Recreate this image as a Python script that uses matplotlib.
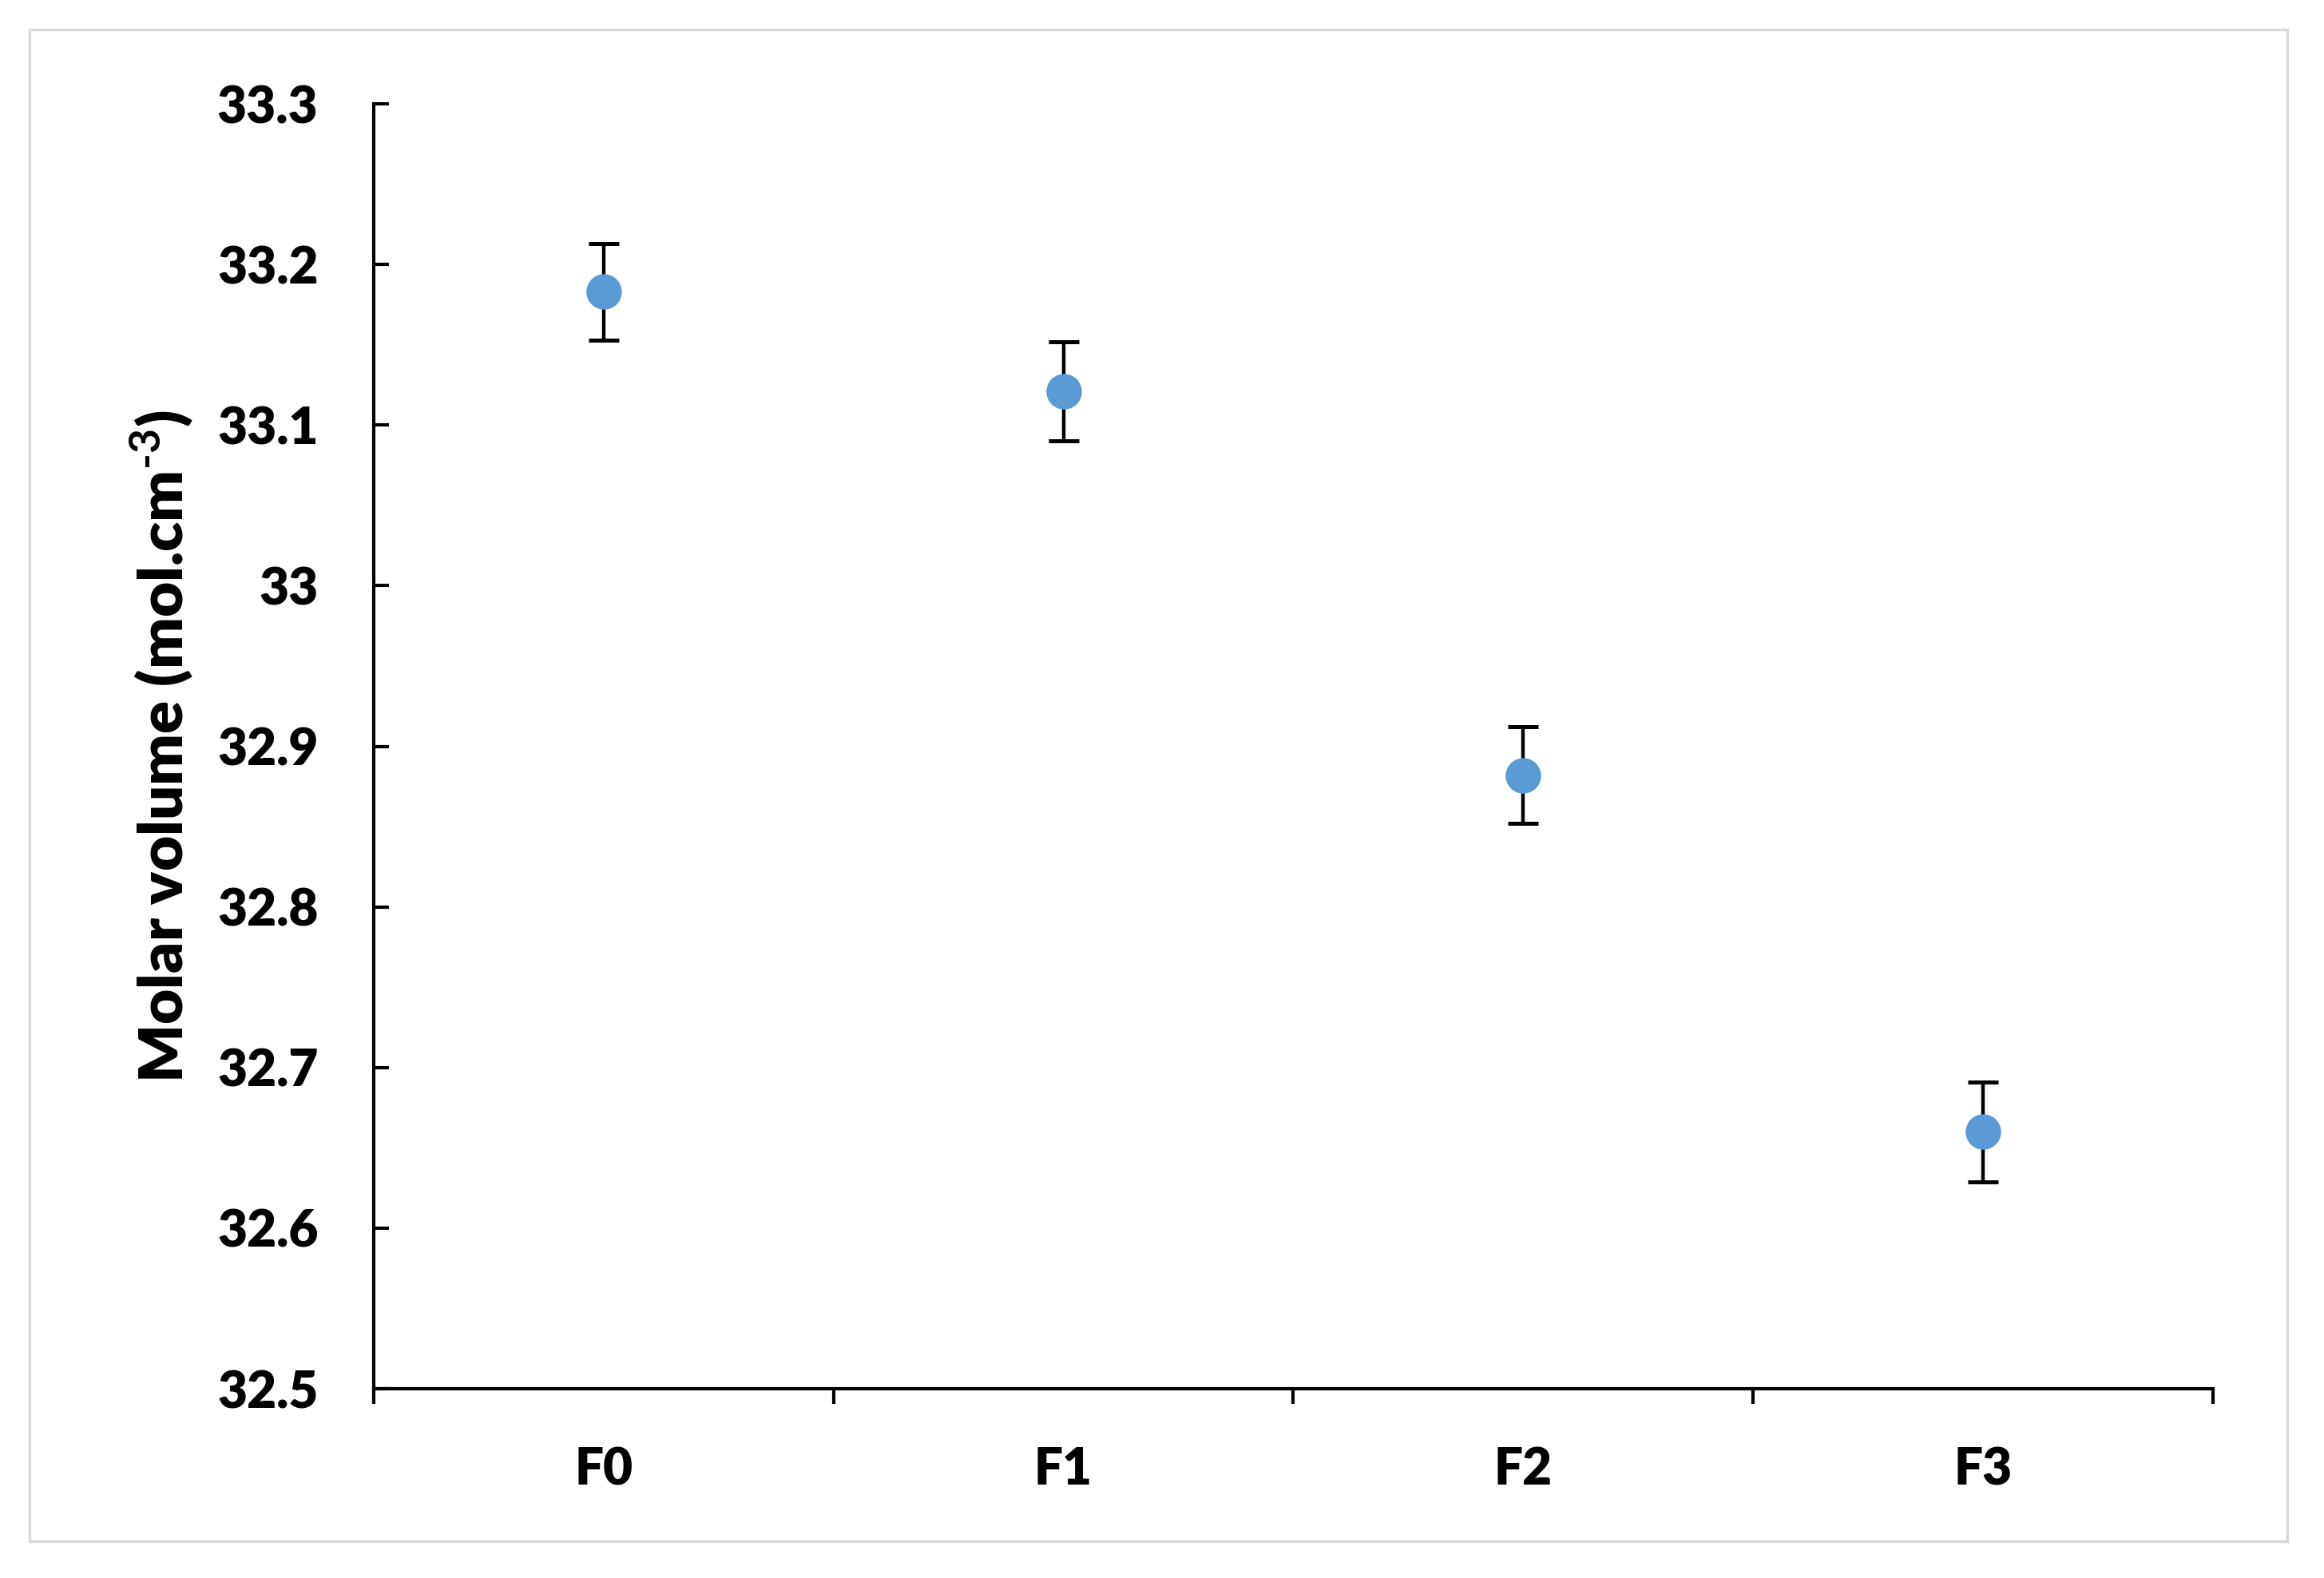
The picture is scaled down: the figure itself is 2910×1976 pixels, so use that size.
import matplotlib
matplotlib.use("Agg")
import matplotlib.pyplot as plt
from matplotlib.patches import Rectangle

# data
samples = ["F0", "F1", "F2", "F3"]
molar_volume = [33.183, 33.121, 32.882, 32.660]
errors = [0.030, 0.031, 0.030, 0.031]
y_ticks = [32.5, 32.6, 32.7, 32.8, 32.9, 33.0, 33.1, 33.2, 33.3]
y_tick_labels = ["32.5", "32.6", "32.7", "32.8", "32.9", "33", "33.1", "33.2", "33.3"]

plt.rcParams['font.family'] = ['Lato', 'DejaVu Sans']
plt.rcParams['font.weight'] = 'heavy'
plt.rcParams['mathtext.fontset'] = 'custom'
plt.rcParams['mathtext.rm'] = 'Lato:bold'
plt.rcParams['mathtext.bf'] = 'Lato:bold'
plt.rcParams['mathtext.default'] = 'bf'

fig = plt.figure(figsize=(14.55, 9.88), dpi=200)
ax = fig.add_axes([0.1608, 0.1199, 0.7914, 0.8143])

# light grey frame around the whole chart
fig.patches.append(Rectangle((0.0127, 0.0233), 0.9715, 0.958, transform=fig.transFigure,
                             fill=False, edgecolor='#d9d9d9', linewidth=1.2))

xpos = list(range(1, len(samples) + 1))
ax.errorbar(xpos, molar_volume, yerr=errors, fmt='o', color='#5b9bd5', markersize=15,
            ecolor='black', elinewidth=1.6, capsize=7, capthick=1.8, zorder=3)

ax.set_xlim(0.5, len(samples) + 0.5)
ax.set_ylim(32.5, 33.3)
ax.set_yticks(y_ticks)
ax.set_yticklabels(y_tick_labels)

# category ticks sit between the samples, labels under the samples
ax.set_xticks([i + 0.5 for i in range(len(samples) + 1)])
ax.set_xticklabels([])
ax.set_xticks(xpos, minor=True)
ax.set_xticklabels(samples, minor=True)
ax.tick_params(axis='x', which='major', direction='out', length=7, width=1.5)
ax.tick_params(axis='x', which='minor', length=0, pad=26, labelsize=23)
ax.tick_params(axis='y', direction='in', length=7, width=1.5, pad=25, labelsize=23)

for s in ['top', 'right']:
    ax.spines[s].set_visible(False)
for s in ['left', 'bottom']:
    ax.spines[s].set_linewidth(1.5)

ax.set_ylabel("Molar volume (mol.cm$^{\\text{-3}}$)", fontsize=27.5, fontweight='heavy', labelpad=10)

fig.savefig("out.png", dpi=200, facecolor='white')
